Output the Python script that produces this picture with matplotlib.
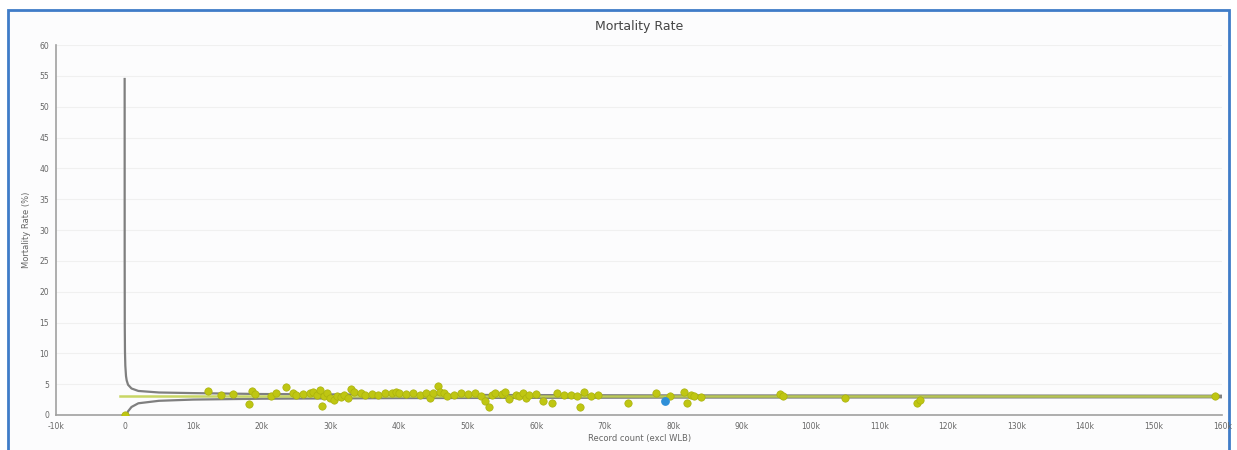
import matplotlib.pyplot as plt
from matplotlib.patches import Rectangle
from matplotlib.ticker import FuncFormatter

# hospital points: record count and mortality rate (%)
rec = [0, 12100, 14000, 15800, 18500, 19000, 18200, 21400, 22000, 23500, 24500,
       25000, 26000, 27000, 27500, 28000, 28500, 28700, 29000, 29500, 30000,
       30500, 31000, 31500, 32000, 32500, 33000, 33500, 34500, 35000, 36000,
       37000, 38000, 39000, 39500, 40000, 41000, 42000, 43000, 44000, 44500,
       45000, 45700, 46000, 46500, 47000, 48000, 49000, 50000, 51000, 52000,
       52500, 53100, 53500, 54000, 55000, 55500, 56000, 57000, 57500, 58000,
       58500, 59000, 60000, 61000, 62300, 63000, 64000, 65000, 66400, 66000,
       67000, 68000, 69000, 73400, 77500, 79500, 81500, 82000, 82500, 83000,
       84000, 95500, 96000, 105000, 115500, 116000, 159000]
rate = [0.0, 3.9, 3.25, 3.4, 3.9, 3.4, 1.8, 3.1, 3.5, 4.6, 3.6,
        3.2, 3.4, 3.5, 3.8, 3.3, 4.0, 1.5, 3.0, 3.6, 2.7,
        2.5, 3.1, 2.9, 3.2, 2.8, 4.2, 3.8, 3.5, 3.3, 3.4,
        3.3, 3.6, 3.5, 3.7, 3.6, 3.4, 3.5, 3.3, 3.5, 2.8,
        3.6, 4.7, 3.8, 3.5, 3.0, 3.3, 3.6, 3.4, 3.5, 3.0,
        2.2, 1.3, 3.2, 3.6, 3.4, 3.8, 2.6, 3.3, 3.0, 3.6,
        2.8, 3.3, 3.4, 2.2, 2.0, 3.5, 3.2, 3.3, 1.3, 3.0,
        3.7, 3.0, 3.2, 1.95, 3.6, 3.0, 3.8, 2.0, 3.3, 3.0,
        2.9, 3.4, 3.0, 2.7, 2.0, 2.5, 3.1]

# highlighted hospital
hl_rec = [78800]
hl_rate = [2.3]

# overall average and funnel limits
mean_x = [-700, 159000]
mean_y = [3.0, 3.0]
lim_n = [1, 5, 20, 50, 100, 200, 300, 500, 1000, 2000, 5000, 10000,
         20000, 40000, 80000, 160000]
upper = [54.5, 25.9, 14.4, 10.2, 8.0, 6.3, 5.6, 4.9, 4.3, 3.9, 3.65, 3.55,
         3.4, 3.28, 3.18, 3.13]
lower = [0.0, 0.0, 0.0, 0.0, 0.0, 0.0, 0.05, 0.6, 1.3, 1.9, 2.3, 2.5,
         2.64, 2.74, 2.82, 2.87]

xticks = list(range(-10000, 160001, 10000))
yticks = list(range(0, 61, 5))

txt = '#666666'
fig = plt.figure(figsize=(12.37, 4.5), dpi=100, facecolor='white')
fig.add_artist(Rectangle((8 / 1237, -0.01), 1221 / 1237, 1 - 10 / 450 + 0.01,
                         transform=fig.transFigure, facecolor='#fcfcfd',
                         edgecolor='#3f7cc8', lw=2, zorder=-5))
ax = fig.add_axes([0.0453, 0.0778, 0.9428, 0.822])
ax.set_facecolor('none')
ax.set_zorder(2)

ax.plot(lim_n, upper, color='#7f7f7f', lw=1.6, zorder=3)
ax.plot(lim_n, lower, color='#7f7f7f', lw=1.6, zorder=3)
ax.plot(mean_x, mean_y, color='#bfd04a', lw=1.8, alpha=0.85, zorder=4)
ax.scatter(rec, rate, s=28, color='#bfc612', edgecolors='#aab20e',
           linewidths=0.5, zorder=5)
ax.scatter(hl_rec, hl_rate, s=28, color='#2f8fd8', zorder=6)

ax.set_xlim(-10000, 160000)
ax.set_ylim(0, 60)
ax.set_xticks(xticks)
ax.set_yticks(yticks)
ax.xaxis.set_major_formatter(FuncFormatter(
    lambda v, p: '0' if v == 0 else '{}k'.format(int(v / 1000))))
ax.tick_params(axis='both', length=0, labelsize=5.5, labelcolor=txt, pad=5)
ax.grid(axis='y', color='#f0f0f0', lw=0.8)
ax.set_axisbelow(True)
for s in ['top', 'right']:
    ax.spines[s].set_visible(False)
ax.spines['left'].set_color('#a0a0a0')
ax.spines['bottom'].set_color('#a0a0a0')
ax.spines['left'].set_linewidth(1.2)
ax.spines['bottom'].set_linewidth(1.2)

ax.set_title('Mortality Rate', fontsize=9, color='#444444', pad=11)
ax.set_xlabel('Record count (excl WLB)', fontsize=6, color=txt, labelpad=2)
ax.set_ylabel('Mortality Rate (%)', fontsize=6, color=txt, labelpad=6)

fig.savefig('out.png', dpi=100, facecolor=fig.get_facecolor())
